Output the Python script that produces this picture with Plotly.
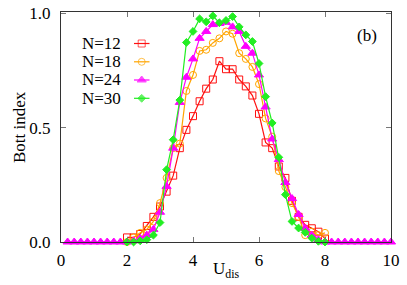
import plotly.graph_objects as go

# ---------------- data ----------------
u_mid = [2.0, 2.2, 2.4, 2.6, 2.8, 3.0, 3.2, 3.4, 3.6, 3.8, 4.0, 4.2, 4.4, 4.6, 4.8,
         5.0, 5.2, 5.4, 5.6, 5.8, 6.0, 6.2, 6.4, 6.6, 6.8, 7.0, 7.2, 7.4, 7.6, 7.8, 8.0]
u_24 = [0.2, 0.4, 0.6, 0.8, 1.0, 1.2, 1.4, 1.6, 1.8] + u_mid + \
       [8.2, 8.4, 8.6, 8.8, 9.0, 9.2, 9.4, 9.6, 9.8, 10.0]

bott_12 = [0.02, 0.02, 0.035, 0.07, 0.11, 0.155, 0.22, 0.29, 0.41, 0.49, 0.55, 0.615,
           0.67, 0.71, 0.79, 0.755, 0.755, 0.71, 0.68, 0.64, 0.56, 0.435, 0.41, 0.33,
           0.28, 0.18, 0.11, 0.075, 0.06, 0.045, 0.015]
bott_18 = [0.0, 0.02, 0.04, 0.055, 0.09, 0.17, 0.28, 0.41, 0.43, 0.66, 0.73, 0.835,
           0.84, 0.87, 0.89, 0.92, 0.91, 0.825, 0.80, 0.765, 0.69, 0.54, 0.46, 0.31,
           0.24, 0.17, 0.11, 0.03, 0.045, 0.03, 0.04]
bott_24 = [0.0] * 9 + \
          [0.0, 0.005, 0.015, 0.03, 0.055, 0.13, 0.243, 0.41, 0.61, 0.72, 0.80, 0.89,
           0.92, 0.95, 0.955, 0.96, 0.94, 0.92, 0.855, 0.825, 0.73, 0.59, 0.45, 0.36,
           0.26, 0.19, 0.12, 0.06, 0.03, 0.01, 0.0] + [0.0] * 10
bott_30 = [0.0, 0.0, 0.005, 0.01, 0.03, 0.085, 0.316, 0.447, 0.62, 0.872, 0.92, 0.975,
           0.962, 0.988, 0.958, 0.968, 0.985, 0.94, 0.905, 0.876, 0.78, 0.635, 0.52,
           0.37, 0.207, 0.09, 0.061, 0.042, 0.017, 0.003, 0.0]

names = ["N=12", "N=18", "N=24", "N=30"]
colors = ["#ff1010", "#ffa500", "#ff00ff", "#22ee22"]
symbols = ["square-open", "circle-open", "triangle-up", "diamond"]
msizes = [7, 7, 8, 6]

x_ticks = [0, 2, 4, 6, 8, 10]
y_ticks = [0.0, 0.5, 1.0]
y_ticklabels = ["0.0", "0.5", "1.0"]

series = [(u_mid, bott_12), (u_mid, bott_18), (u_24, bott_24), (u_mid, bott_30)]

FONT = "'Liberation Serif', Tinos, 'Times New Roman', Times, 'DejaVu Serif', serif"
W, H = 407, 285
L, R, T, B = 61, 16, 12, 43
PW, PH = W - L - R, H - T - B


def px_x(px):
    return (px - L) / PW


def px_y(py):
    return (H - B - py) / PH


fig = go.Figure()
for (xs, ys), nm, c, s, ms in zip(series, names, colors, symbols, msizes):
    fig.add_trace(go.Scatter(
        x=xs, y=ys, mode="lines+markers", name=nm,
        line=dict(color=c, width=1.2),
        marker=dict(symbol=s, size=ms, color=c, line=dict(color=c, width=1)),
        showlegend=False, cliponaxis=False))

# legend (text left, sample right) on a pixel-coordinate overlay axis
legend_rows_y = [43.5, 61.8, 80.0, 98.3]
for nm, c, s, ms, py in zip(names, colors, symbols, msizes, legend_rows_y):
    fig.add_trace(go.Scatter(
        x=[134, 141.7, 149.5], y=[py, py, py], xaxis="x2", yaxis="y2",
        mode="lines+markers", line=dict(color=c, width=1.2),
        marker=dict(symbol=s, size=[0, ms, 0], color=c, line=dict(color=c, width=1)),
        showlegend=False, hoverinfo="skip"))
    fig.add_annotation(x=px_x(123), y=px_y(py), xref="paper", yref="paper", text=nm,
                       showarrow=False, xanchor="right", yanchor="middle",
                       font=dict(family=FONT, size=17, color="black"))

fig.add_annotation(x=px_x(378.5), y=px_y(35.5), xref="paper", yref="paper", text="(b)",
                   showarrow=False, xanchor="right", yanchor="middle",
                   font=dict(family=FONT, size=17, color="black"))
fig.add_annotation(x=px_x(211), y=px_y(270), xref="paper", yref="paper",
                   text="U<sub>dis</sub>", showarrow=False,
                   xanchor="left", yanchor="middle",
                   font=dict(family=FONT, size=17, color="black"))
fig.add_annotation(x=px_x(19), y=px_y(127), xref="paper", yref="paper",
                   text="Bott index", showarrow=False, textangle=-90,
                   xanchor="center", yanchor="middle",
                   font=dict(family=FONT, size=17, color="black"))

axis_common = dict(showgrid=False, zeroline=False, showline=True, mirror="ticks",
                   linecolor="#333333", linewidth=1, ticks="inside", ticklen=5,
                   tickcolor="#777777", tickwidth=1, automargin=False,
                   tickfont=dict(family=FONT, size=17, color="black"))

fig.update_layout(
    width=W, height=H,
    margin=dict(l=L, r=R, t=T, b=B, autoexpand=False),
    paper_bgcolor="white", plot_bgcolor="white",
    font=dict(family=FONT, size=17, color="black"),
    xaxis=dict(range=[0, 10], tickvals=x_ticks, ticktext=[str(v) for v in x_ticks],
               ticklabelstandoff=3, **axis_common),
    yaxis=dict(range=[0, 1.005], tickvals=y_ticks, ticktext=y_ticklabels,
               ticklabelstandoff=6, **axis_common),
    xaxis2=dict(overlaying="x", range=[L, W - R], visible=False, fixedrange=True),
    yaxis2=dict(overlaying="y", range=[H - B, T], visible=False, fixedrange=True),
    showlegend=False,
)

fig.write_html("out.html", config={"displayModeBar": False},
               post_script="document.body.style.margin='0';document.body.style.padding='0';")
